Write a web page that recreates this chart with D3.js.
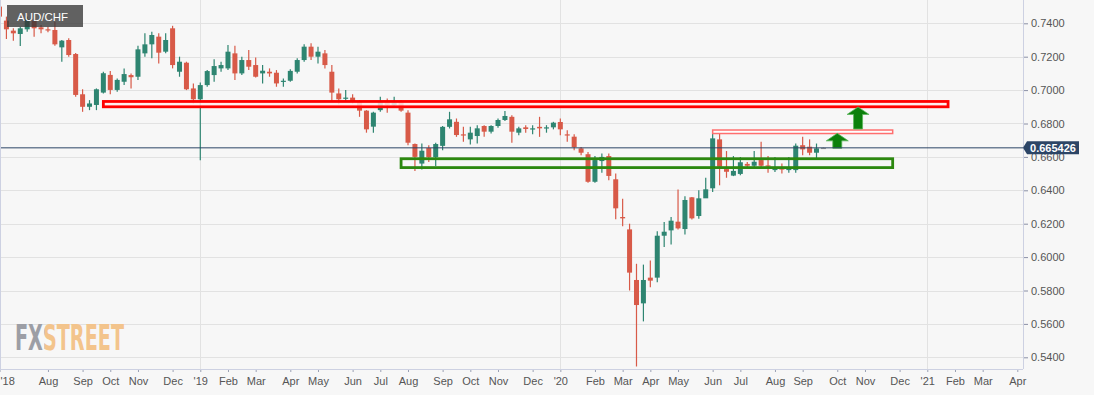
<!DOCTYPE html>
<html>
<head>
<meta charset="utf-8">
<script src="https://cdn.jsdelivr.net/npm/d3@7"></script>
<style>
  body { margin: 0; background: #f7f7f7; }
  svg { display: block; font-family: "Liberation Sans", Arial, sans-serif; }
</style>
</head>
<body>
<div class="chart"></div>
<script>
// weekly candles, dated by the friday of each week
var firstWeek = new Date(Date.UTC(2018, 5, 15));
var lastWeek = new Date(Date.UTC(2020, 8, 25));

var open = [
  0.7500, 0.7416, 0.7356, 0.7336, 0.7364, 0.7416, 0.7376, 0.7364, 0.7360, 0.7256,
  0.7300, 0.7216, 0.6975, 0.6900, 0.6911, 0.6985, 0.7091, 0.7001, 0.7050, 0.7090,
  0.7080, 0.7220, 0.7274, 0.7320, 0.7230, 0.7370, 0.7110, 0.7164, 0.7010, 0.6945,
  0.7030, 0.7090, 0.7130, 0.7130, 0.7220, 0.7100, 0.7180, 0.7150, 0.7100, 0.7110,
  0.7104, 0.7050, 0.7056, 0.7110, 0.7180, 0.7260, 0.7200, 0.7220, 0.7110, 0.6980,
  0.6950, 0.6955, 0.6930, 0.6877, 0.6781, 0.6880, 0.6925, 0.6910, 0.6925, 0.6865,
  0.6677, 0.6560, 0.6653, 0.6598, 0.6666, 0.6780, 0.6810, 0.6735, 0.6705, 0.6725,
  0.6785, 0.6751, 0.6785, 0.6821, 0.6840, 0.6745, 0.6777, 0.6770, 0.6780, 0.6775,
  0.6777, 0.6809, 0.6735, 0.6721, 0.6651, 0.6616, 0.6451, 0.6575, 0.6605, 0.6466,
  0.6240, 0.6166, 0.5863, 0.5723, 0.5877, 0.5877, 0.6128, 0.6160, 0.6212, 0.6168,
  0.6358, 0.6246, 0.6352, 0.6412, 0.6705, 0.6527, 0.6488, 0.6498, 0.6558, 0.6547,
  0.6581, 0.6549, 0.6521, 0.6531, 0.6521, 0.6521, 0.6670, 0.6661, 0.6625, 0.6651
];
var high = [
  0.7520, 0.7440, 0.7370, 0.7380, 0.7440, 0.7430, 0.7390, 0.7380, 0.7410, 0.7300,
  0.7310, 0.7222, 0.7005, 0.6940, 0.7010, 0.7110, 0.7115, 0.7070, 0.7130, 0.7100,
  0.7265, 0.7340, 0.7350, 0.7340, 0.7340, 0.7385, 0.7200, 0.7170, 0.7040, 0.7045,
  0.7120, 0.7185, 0.7170, 0.7270, 0.7265, 0.7200, 0.7240, 0.7195, 0.7150, 0.7130,
  0.7120, 0.7070, 0.7125, 0.7190, 0.7275, 0.7280, 0.7260, 0.7240, 0.7150, 0.7010,
  0.7000, 0.6975, 0.6940, 0.6880, 0.6870, 0.6960, 0.6950, 0.6960, 0.6940, 0.6880,
  0.6680, 0.6680, 0.6670, 0.6685, 0.6785, 0.6870, 0.6830, 0.6780, 0.6780, 0.6790,
  0.6790, 0.6790, 0.6830, 0.6875, 0.6850, 0.6780, 0.6790, 0.6790, 0.6840, 0.6790,
  0.6810, 0.6830, 0.6760, 0.6735, 0.6660, 0.6630, 0.6605, 0.6620, 0.6620, 0.6500,
  0.6350, 0.6200, 0.5960, 0.5955, 0.5980, 0.6155, 0.6210, 0.6240, 0.6405, 0.6365,
  0.6360, 0.6400, 0.6475, 0.6745, 0.6740, 0.6635, 0.6605, 0.6600, 0.6570, 0.6635,
  0.6690, 0.6605, 0.6600, 0.6560, 0.6600, 0.6680, 0.6720, 0.6705, 0.6680, 0.6656
];
var low = [
  0.7430, 0.7306, 0.7296, 0.7264, 0.7350, 0.7320, 0.7340, 0.7346, 0.7265, 0.7170,
  0.7200, 0.6960, 0.6870, 0.6880, 0.6880, 0.6980, 0.6975, 0.6990, 0.7030, 0.7010,
  0.7060, 0.7200, 0.7190, 0.7160, 0.7220, 0.7130, 0.7080, 0.7000, 0.6920, 0.6580,
  0.7020, 0.7050, 0.7110, 0.7120, 0.7060, 0.7090, 0.7120, 0.7075, 0.7040, 0.7080,
  0.7020, 0.7020, 0.7050, 0.7100, 0.7170, 0.7180, 0.7160, 0.7130, 0.6930, 0.6915,
  0.6930, 0.6920, 0.6840, 0.6745, 0.6745, 0.6870, 0.6865, 0.6900, 0.6870, 0.6670,
  0.6515, 0.6525, 0.6570, 0.6545, 0.6640, 0.6770, 0.6720, 0.6690, 0.6675, 0.6680,
  0.6720, 0.6740, 0.6775, 0.6815, 0.6685, 0.6730, 0.6745, 0.6735, 0.6720, 0.6745,
  0.6765, 0.6730, 0.6690, 0.6640, 0.6610, 0.6445, 0.6445, 0.6505, 0.6460, 0.6226,
  0.6185, 0.5800, 0.5345, 0.5615, 0.5820, 0.5850, 0.6060, 0.6075, 0.6165, 0.6135,
  0.6225, 0.6230, 0.6395, 0.6390, 0.6430, 0.6475, 0.6485, 0.6490, 0.6530, 0.6540,
  0.6540, 0.6505, 0.6510, 0.6500, 0.6505, 0.6505, 0.6610, 0.6610, 0.6590, 0.6650
];
var close = [
  0.7440, 0.7364, 0.7340, 0.7370, 0.7424, 0.7370, 0.7364, 0.7360, 0.7274, 0.7296,
  0.7210, 0.6971, 0.6900, 0.6920, 0.7005, 0.7101, 0.7001, 0.7061, 0.7096, 0.7077,
  0.7244, 0.7274, 0.7330, 0.7224, 0.7300, 0.7150, 0.7170, 0.7005, 0.6945, 0.7030,
  0.7114, 0.7144, 0.7150, 0.7230, 0.7100, 0.7180, 0.7140, 0.7080, 0.7116, 0.7100,
  0.7040, 0.7056, 0.7115, 0.7180, 0.7260, 0.7200, 0.7230, 0.7150, 0.6985, 0.6945,
  0.6955, 0.6930, 0.6877, 0.6765, 0.6865, 0.6930, 0.6910, 0.6925, 0.6877, 0.6685,
  0.6600, 0.6637, 0.6598, 0.6677, 0.6780, 0.6825, 0.6731, 0.6730, 0.6745, 0.6771,
  0.6751, 0.6785, 0.6821, 0.6845, 0.6751, 0.6771, 0.6767, 0.6771, 0.6771, 0.6777,
  0.6805, 0.6765, 0.6729, 0.6658, 0.6625, 0.6451, 0.6581, 0.6600, 0.6486, 0.6292,
  0.6232, 0.5907, 0.5713, 0.5863, 0.5859, 0.6128, 0.6152, 0.6218, 0.6172, 0.6342,
  0.6232, 0.6352, 0.6406, 0.6711, 0.6541, 0.6511, 0.6516, 0.6568, 0.6547, 0.6571,
  0.6547, 0.6547, 0.6531, 0.6525, 0.6531, 0.6667, 0.6645, 0.6625, 0.6651, 0.6654
];
var lastPrice = 0.665426;

var yTicks = [0.54, 0.56, 0.58, 0.60, 0.62, 0.64, 0.66, 0.68, 0.70, 0.72, 0.74];

var tickDates = ['2018-06-15', '2018-08-03', '2018-09-07', '2018-10-05', '2018-11-02', '2018-12-07',
  '2019-01-04', '2019-02-01', '2019-03-01', '2019-04-05', '2019-05-03', '2019-06-07',
  '2019-07-05', '2019-08-02', '2019-09-06', '2019-10-04', '2019-11-01', '2019-12-06',
  '2020-01-03', '2020-02-07', '2020-03-06', '2020-04-03', '2020-05-01', '2020-06-05',
  '2020-07-03', '2020-08-07', '2020-09-04', '2020-10-09', '2020-11-06', '2020-12-11',
  '2021-01-08', '2021-02-05', '2021-03-05', '2021-04-09'];
var tickLabels = ["'18", 'Aug', 'Sep', 'Oct', 'Nov', 'Dec',
  "'19", 'Feb', 'Mar', 'Apr', 'May', 'Jun',
  'Jul', 'Aug', 'Sep', 'Oct', 'Nov', 'Dec',
  "'20", 'Feb', 'Mar', 'Apr', 'May', 'Jun',
  'Jul', 'Aug', 'Sep', 'Oct', 'Nov', 'Dec',
  "'21", 'Feb', 'Mar', 'Apr'];

// drawn zones: [from, to, low price, high price]
var resistanceZone = ['2018-09-28', '2021-01-29', 0.6900, 0.6932];
var supportZone = ['2019-07-26', '2020-12-04', 0.6536, 0.6589];
var rangeTop = ['2020-06-05', '2020-12-04', 0.6740, 0.6761];
// arrows: [date, from price, to price]
var arrows = [['2020-10-09', 0.6652, 0.6741], ['2020-10-30', 0.6767, 0.6899]];

var width = 1094, height = 395;
var plotW = 1023, plotH = 369;

var parse = d3.utcParse('%Y-%m-%d');
var weeks = d3.utcFriday.range(firstWeek, d3.utcDay.offset(lastWeek, 1));
var candles = weeks.map(function(d, i) {
  return { date: d, o: open[i], h: high[i], l: low[i], c: close[i] };
});

var x = d3.scaleUtc()
  .domain([firstWeek, parse('2021-04-09')])
  .range([-0.5, 1017.3]);
var y = d3.scaleLinear()
  .domain([0.54, 0.74])
  .range([357.3, 23.3]);

var svg = d3.select('.chart').append('svg')
  .attr('width', width)
  .attr('height', height);

svg.append('rect').attr('width', width).attr('height', height).attr('fill', '#f7f7f7');

var defs = svg.append('defs');
defs.append('clipPath').attr('id', 'plot')
  .append('rect').attr('width', plotW).attr('height', plotH);

// logo colours: grey "FX", orange "STREET"
var lg = defs.append('linearGradient').attr('id', 'logoFill')
  .attr('gradientUnits', 'userSpaceOnUse')
  .attr('x1', 15).attr('x2', 124).attr('y1', 0).attr('y2', 0);
lg.append('stop').attr('offset', 0).attr('stop-color', '#9c9ea5');
lg.append('stop').attr('offset', 0.275).attr('stop-color', '#9c9ea5');
lg.append('stop').attr('offset', 0.275).attr('stop-color', '#f3c48c');
lg.append('stop').attr('offset', 1).attr('stop-color', '#f3c48c');

// grid
var grid = svg.append('g').attr('clip-path', 'url(#plot)');
grid.selectAll('.hg').data(yTicks).enter().append('line')
  .attr('x1', 0).attr('x2', plotW)
  .attr('y1', function(d) { return Math.round(y(d)) + 0.5; })
  .attr('y2', function(d) { return Math.round(y(d)) + 0.5; })
  .attr('stroke', '#e2e2e2');
grid.selectAll('.vg').data(tickDates.filter(function(d, i) { return tickLabels[i][0] == "'" && i > 0; }))
  .enter().append('line')
  .attr('x1', function(d) { return Math.round(x(parse(d))) + 0.5; })
  .attr('x2', function(d) { return Math.round(x(parse(d))) + 0.5; })
  .attr('y1', 0).attr('y2', plotH)
  .attr('stroke', '#e2e2e2');

// logo
svg.append('text')
  .attr('x', 15).attr('y', 350)
  .attr('font-family', '"Liberation Sans Narrow", "DejaVu Sans Condensed", sans-serif')
  .attr('font-weight', 'bold').attr('font-size', 36)
  .attr('textLength', 109).attr('lengthAdjust', 'spacingAndGlyphs')
  .attr('fill', 'url(#logoFill)')
  .text('FXSTREET');

// candles
var bodyW = 5;
var plot = svg.append('g').attr('clip-path', 'url(#plot)');
var cg = plot.selectAll('.candle').data(candles).enter().append('g')
  .attr('transform', function(d) { return 'translate(' + x(d.date) + ',0)'; });

function colour(d, i) {
  if (i == candles.length - 1) return '#9a9a9a';
  return d.c >= d.o ? '#2e8571' : '#d85a48';
}
cg.append('line')
  .attr('x1', 0).attr('x2', 0)
  .attr('y1', function(d) { return y(d.h); })
  .attr('y2', function(d) { return y(d.l); })
  .attr('stroke', colour)
  .attr('stroke-width', 1.2);
cg.append('rect')
  .attr('x', -bodyW / 2)
  .attr('width', bodyW)
  .attr('y', function(d) { return y(Math.max(d.o, d.c)); })
  .attr('height', function(d) { return Math.max(1.2, Math.abs(y(d.o) - y(d.c))); })
  .attr('fill', colour);

// zones
function zone(z, stroke, sw, fill) {
  plot.append('rect')
    .attr('x', x(parse(z[0])))
    .attr('width', x(parse(z[1])) - x(parse(z[0])))
    .attr('y', y(z[3]))
    .attr('height', y(z[2]) - y(z[3]))
    .attr('fill', fill)
    .attr('stroke', stroke)
    .attr('stroke-width', sw);
}
zone(resistanceZone, '#ff0000', 2.8, 'rgba(255,235,235,0.85)');
zone(rangeTop, '#ff6f6f', 1.5, 'rgba(255,255,255,0.85)');
zone(supportZone, '#2c880f', 2.8, 'none');

// arrows
arrows.forEach(function(a) {
  var cx = x(parse(a[0])), yb = y(a[1]), yt = y(a[2]);
  var hw = 11, sw = 4.5, hh = 7.5;
  var pts = [[cx, yt], [cx + hw, yt + hh], [cx + sw, yt + hh], [cx + sw, yb],
             [cx - sw, yb], [cx - sw, yt + hh], [cx - hw, yt + hh]];
  plot.append('path')
    .attr('d', 'M' + pts.join('L') + 'Z')
    .attr('fill', '#0b800b')
    .attr('stroke', '#5cb85c')
    .attr('stroke-width', 0.8);
});

// last price line
plot.append('line')
  .attr('x1', 0).attr('x2', plotW)
  .attr('y1', y(lastPrice)).attr('y2', y(lastPrice))
  .attr('stroke', '#2c4566').attr('stroke-width', 1);

// axes
var xAxis = d3.axisBottom(x)
  .tickValues(tickDates.map(parse))
  .tickFormat(function(d, i) { return tickLabels[i]; })
  .tickSize(3).tickPadding(5);
var gx = svg.append('g')
  .attr('transform', 'translate(0,' + plotH + ')')
  .call(xAxis);
gx.select('.domain').remove();
gx.selectAll('line').attr('stroke', '#9aa0b4');
gx.selectAll('text').attr('fill', '#555').attr('font-size', 11)
  .attr('font-family', '"Liberation Sans", Arial, sans-serif');
gx.select('.tick text').attr('text-anchor', 'start').attr('x', 0.5);

var yAxis = d3.axisRight(y)
  .tickValues(yTicks)
  .tickFormat(d3.format('.4f'))
  .tickSize(5).tickPadding(3);
var gy = svg.append('g')
  .attr('transform', 'translate(' + plotW + ',0)')
  .call(yAxis);
gy.select('.domain').remove();
gy.selectAll('line').attr('stroke', '#8a90a6');
gy.selectAll('text').attr('fill', '#555').attr('font-size', 11)
  .attr('font-family', '"Liberation Sans", Arial, sans-serif');

// frame lines
svg.append('line').attr('x1', 0).attr('x2', plotW).attr('y1', plotH + 0.5).attr('y2', plotH + 0.5)
  .attr('stroke', '#cdd1e2');
svg.append('line').attr('x1', plotW + 0.5).attr('x2', plotW + 0.5).attr('y1', 0).attr('y2', plotH)
  .attr('stroke', '#cdd1e2');
svg.append('line').attr('x1', 0.5).attr('x2', 0.5).attr('y1', 0).attr('y2', plotH)
  .attr('stroke', '#cdd1e2');

// last price label
var ly = y(lastPrice);
svg.append('path')
  .attr('d', 'M' + plotW + ',' + ly + 'L' + (plotW + 4) + ',' + (ly - 6.5) + 'L1079,' + (ly - 6.5) +
             'L1079,' + (ly + 6.5) + 'L' + (plotW + 4) + ',' + (ly + 6.5) + 'Z')
  .attr('fill', '#2c4566');
svg.append('text')
  .attr('x', 1053).attr('y', ly + 4)
  .attr('text-anchor', 'middle')
  .attr('fill', '#fff')
  .attr('font-size', 11)
  .attr('font-weight', 'bold')
  .text(d3.format('.6f')(lastPrice));

// title
svg.append('rect')
  .attr('x', 7).attr('y', 5).attr('width', 76).attr('height', 22)
  .attr('fill', 'rgba(55,55,55,0.78)');
svg.append('text')
  .attr('x', 17).attr('y', 20.5)
  .attr('fill', '#fff')
  .attr('font-size', 11.5)
  .text('AUD/CHF');
</script>
</body>
</html>
